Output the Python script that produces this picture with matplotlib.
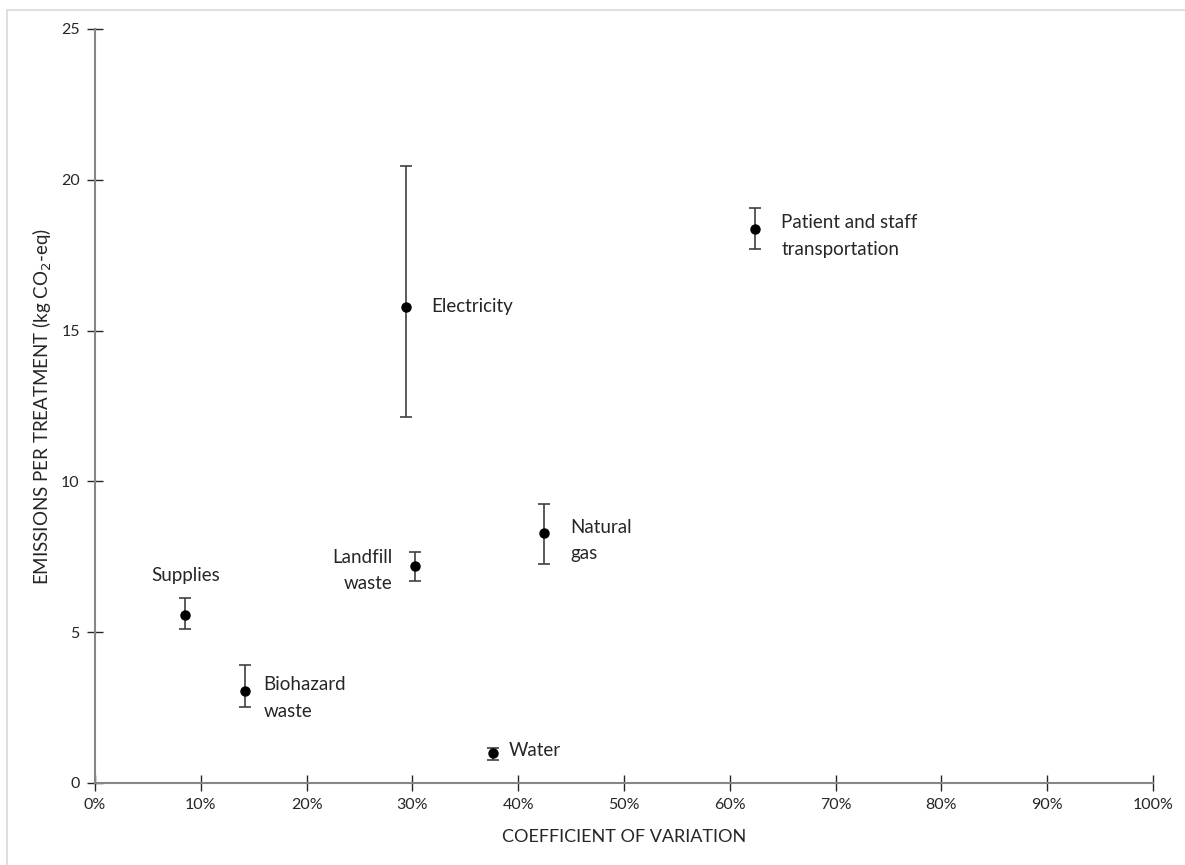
import numpy as np
import matplotlib.pyplot as plt
from matplotlib.patches import Rectangle

plt.rcParams['font.family'] = ['Lato', 'DejaVu Sans']

# data
names = ['Supplies', 'Biohazard\nwaste', 'Water', 'Electricity',
         'Patient and staff\ntransportation', 'Landfill\nwaste', 'Natural\ngas']
cv = [8.55, 14.2, 37.65, 29.4, 62.4, 30.2, 42.4]          # %
emis = [5.57, 3.05, 0.98, 15.79, 18.37, 7.2, 8.3]         # kg CO2-eq
err_lo = [0.45, 0.54, 0.22, 3.64, 0.67, 0.50, 1.03]
err_hi = [0.58, 0.85, 0.18, 4.67, 0.68, 0.47, 0.95]

# label placement (offset in px, alignment)
lab_off = [(0, 40), (18, -7), (15, 3), (25, 0), (26, -7), (-22, -5), (27, -8)]
lab_ha = ['center', 'left', 'left', 'left', 'left', 'right', 'left']

W, H = 1185, 865
fig = plt.figure(figsize=(W/100, H/100), dpi=100)
fig.patches.append(Rectangle((7/W, -0.1), 1.2, 1 - 10/H + 0.1,
                             transform=fig.transFigure, fill=False,
                             edgecolor='#d9d9d9', linewidth=1.2))
ax = fig.add_axes([95/W, 1 - 783/H, (1153-95)/W, (783-29)/H])

ax.errorbar(cv, emis, yerr=[err_lo, err_hi], fmt='o', color='black',
            ecolor='#404040', elinewidth=1.2, capsize=4, capthick=1.2,
            markersize=6.5, zorder=3)

for i in range(len(names)):
    dx, dy = lab_off[i]
    ax.annotate(names[i], (cv[i], emis[i]), xytext=(dx*0.72, dy*0.72),
                textcoords='offset points', ha=lab_ha[i], va='center',
                fontsize=13.5, color='#262626', linespacing=1.65)

ax.set_xlim(0, 100)
ax.set_ylim(0, 25)
ax.set_xticks(np.arange(0, 101, 10))
ax.set_xticklabels([f'{v}%' for v in range(0, 101, 10)])
ax.set_yticks([0, 5, 10, 15, 20, 25])

for s in ['top', 'right']:
    ax.spines[s].set_visible(False)
for s in ['left', 'bottom']:
    ax.spines[s].set_color('#868686')
    ax.spines[s].set_linewidth(1.5)
ax.tick_params(direction='inout', length=12, width=1, color='#262626',
               labelsize=11.5, labelcolor='#262626', pad=5)

ax.set_xlabel('COEFFICIENT OF VARIATION', fontsize=13, color='#262626', labelpad=12)
ax.set_ylabel('EMISSIONS PER TREATMENT (kg CO$_2$-eq)', fontsize=13.5,
              color='#262626', labelpad=5)

fig.savefig('out.png', dpi=100)
